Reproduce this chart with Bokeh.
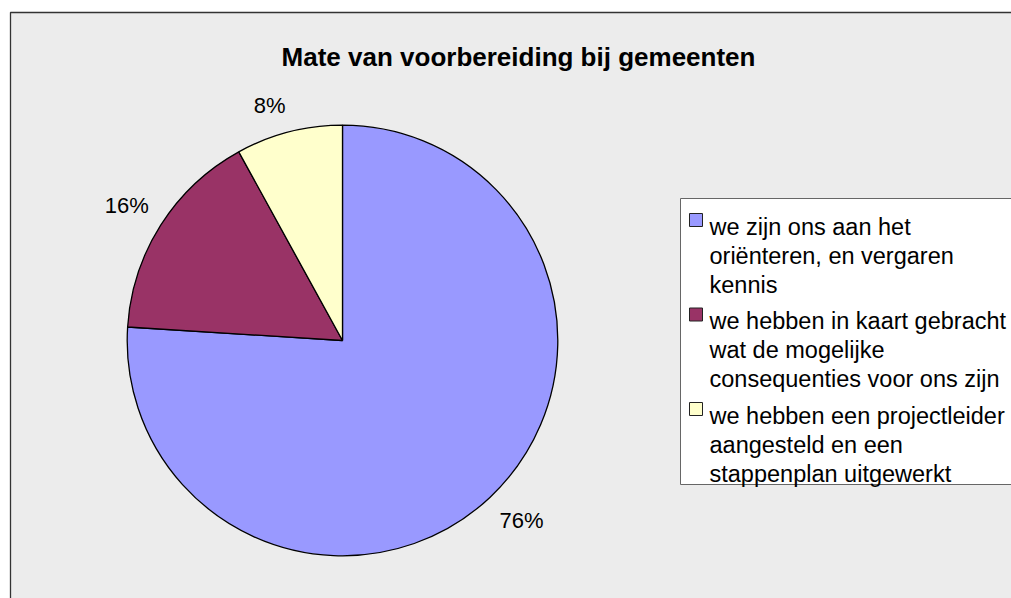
import math
from bokeh.plotting import figure
from bokeh.models import Range1d, ColumnDataSource
from bokeh.core.properties import value
from bokeh.embed import file_html
from bokeh.resources import INLINE

# ---- data ----
title = "Mate van voorbereiding bij gemeenten"
categories = [
    "we zijn ons aan het\noriënteren, en vergaren\nkennis",
    "we hebben in kaart gebracht\nwat de mogelijke\nconsequenties voor ons zijn",
    "we hebben een projectleider\naangesteld en een\nstappenplan uitgewerkt",
]
shares = [76, 16, 8]
colors = ["#9999FF", "#993366", "#FFFFCC"]

# ---- layout (page pixel coordinates; y is negated) ----
W, H = 1011, 598
FONT = value("Liberation Sans")

p = figure(width=W, height=H, x_range=Range1d(0, W), y_range=Range1d(-H, 0),
           output_backend="svg", toolbar_location=None, min_border=0,
           x_axis_location=None, y_axis_location=None)
p.grid.visible = False
p.outline_line_color = None
p.background_fill_color = "white"
p.border_fill_color = "white"

# chart area
p.quad(left=10, right=1040, top=-12, bottom=-640, fill_color="#ececec",
       line_color="#333333", line_width=1.3)

# title
p.text(x=518, y=-56, text=[title], text_font=FONT, text_font_size="26px",
       text_font_style="bold", text_align="center", text_baseline="alphabetic",
       text_color="black")

# pie
cx, cy, r = 342, -340, 215.3
total = float(sum(shares))
starts, ends, mids = [], [], []
acc = 0.0
for v in shares:
    a0 = 90 - 360 * acc / total
    acc += v
    a1 = 90 - 360 * acc / total
    starts.append(math.radians(a1))
    ends.append(math.radians(a0))
    mids.append(math.radians((a0 + a1) / 2))

src = ColumnDataSource(dict(start=starts, end=ends, color=colors))
p.wedge(x=cx, y=cy, radius=r, radius_units="screen", start_angle="start",
        end_angle="end", direction="anticlock", fill_color="color",
        line_color="black", line_width=1.3, source=src)

# data labels outside the pie
R = r + 14
for v, m in zip(shares, mids):
    lx = cx + R * math.cos(m)
    ly = cy + R * math.sin(m)
    align = "right" if math.cos(m) < 0 else "left"
    base = "bottom" if math.sin(m) > 0 else "top"
    p.text(x=lx, y=ly, text=[f"{v}%"], text_font=FONT, text_font_size="22px",
           text_align=align, text_baseline=base, text_color="black")

# legend
p.quad(left=680, right=1040, top=-198, bottom=-484, fill_color="white",
       line_color="#666666", line_width=1)
first_base, entry_step, line_step = 226, 94.5, 29
for i, (cat, col) in enumerate(zip(categories, colors)):
    b = first_base + entry_step * i
    p.quad(left=689, right=702, top=-(b - 13), bottom=-b, fill_color=col,
           line_color="#222222", line_width=1)
    for j, line in enumerate(cat.split("\n")):
        p.text(x=709, y=-(b + line_step * j), text=[line], text_font=FONT,
               text_font_size="23.5px", text_align="left",
               text_baseline="alphabetic", text_color="black")

open("out.html", "w").write(file_html(p, INLINE))
